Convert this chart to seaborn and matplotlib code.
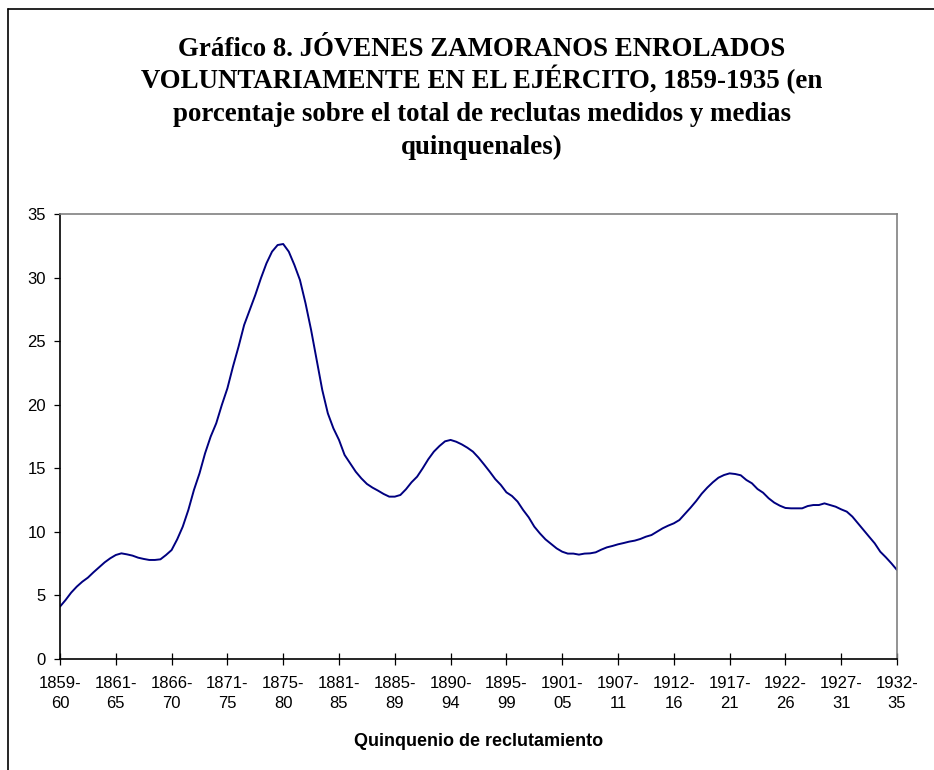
# Load the necessary libraries
import matplotlib
matplotlib.use("Agg")
import matplotlib.pyplot as plt
import seaborn as sns
import numpy as np
import pandas as pd
from matplotlib.lines import Line2D

############
# The data #
############

# Quinquennial labels shown on the category axis
periods = ["1859-\n60", "1861-\n65", "1866-\n70", "1871-\n75", "1875-\n80",
           "1881-\n85", "1885-\n89", "1890-\n94", "1895-\n99", "1901-\n05",
           "1907-\n11", "1912-\n16", "1917-\n21", "1922-\n26", "1927-\n31",
           "1932-\n35"]

# Percentage of volunteers (10 readings per label step)
volunteers = [4.12, 4.64, 5.22, 5.69, 6.08, 6.4, 6.82, 7.21, 7.6, 7.92,
              8.18, 8.31, 8.23, 8.13, 7.97, 7.87, 7.79, 7.79, 7.84, 8.18,
              8.57, 9.41, 10.41, 11.72, 13.29, 14.6, 16.18, 17.49, 18.54, 19.98,
              21.29, 23.0, 24.57, 26.27, 27.45, 28.63, 29.94, 31.12, 32.04, 32.56,
              32.64, 32.04, 31.0, 29.81, 27.98, 25.88, 23.52, 21.16, 19.32, 18.14,
              17.23, 16.05, 15.39, 14.73, 14.21, 13.77, 13.48, 13.24, 12.98, 12.77,
              12.77, 12.9, 13.35, 13.9, 14.34, 15.0, 15.71, 16.31, 16.75, 17.12,
              17.23, 17.09, 16.88, 16.62, 16.31, 15.84, 15.3, 14.74, 14.15, 13.69,
              13.11, 12.82, 12.38, 11.72, 11.14, 10.41, 9.88, 9.41, 9.05, 8.7,
              8.44, 8.29, 8.29, 8.21, 8.29, 8.31, 8.39, 8.6, 8.78, 8.89,
              9.02, 9.12, 9.23, 9.31, 9.44, 9.62, 9.75, 10.02, 10.28, 10.49,
              10.67, 10.93, 11.41, 11.9, 12.42, 13.0, 13.48, 13.9, 14.26, 14.47,
              14.6, 14.55, 14.45, 14.08, 13.82, 13.37, 13.08, 12.64, 12.3, 12.06,
              11.88, 11.85, 11.85, 11.85, 12.03, 12.11, 12.11, 12.24, 12.11, 11.98,
              11.77, 11.59, 11.2, 10.67, 10.15, 9.62, 9.1, 8.44, 8.0, 7.52,
              7.0]

title_lines = ["Gráfico 8. JÓVENES ZAMORANOS ENROLADOS",
               "VOLUNTARIAMENTE EN EL EJÉRCITO, 1859-1935 (en",
               "porcentaje sobre el total de reclutas medidos y medias",
               "quinquenales)"]

df = pd.DataFrame({"pos": np.arange(len(volunteers)), "pct": volunteers})
steps = (len(volunteers) - 1) // (len(periods) - 1)

###################
# Build the chart #
###################

sns.set_style("white")
plt.rcParams["font.family"] = ["Liberation Sans", "DejaVu Sans"]
plt.rcParams["text.color"] = "black"
plt.rcParams["xtick.color"] = "black"
plt.rcParams["ytick.color"] = "black"
plt.rcParams["axes.labelcolor"] = "black"

W, H = 934, 770
fig = plt.figure(figsize=(W / 100, H / 100), dpi=100)
ax = fig.add_axes([60 / W, (H - 659) / H, (897 - 60) / W, (659 - 214) / H])

sns.lineplot(data=df, x="pos", y="pct", ax=ax, color="#000080", linewidth=1.4)

ax.set_xlim(0, len(volunteers) - 1)
ax.set_ylim(0, 35)
ax.set_xticks(np.arange(len(periods)) * steps)
ax.set_xticklabels(periods, fontsize=12, linespacing=1.45)
ax.set_yticks(range(0, 36, 5))
ax.tick_params(axis="y", labelsize=12, direction="out", length=4, width=0.9,
               left=True, pad=6)
ax.tick_params(axis="x", direction="inout", length=8, width=0.9,
               bottom=True, pad=8)
ax.set_xlabel("Quinquenio de reclutamiento", fontsize=13, fontweight="bold",
              labelpad=16)
ax.set_ylabel("")

for side in ["left", "bottom"]:
    ax.spines[side].set_color("black")
    ax.spines[side].set_linewidth(1.2)
for side in ["top", "right"]:
    ax.spines[side].set_color("#808080")
    ax.spines[side].set_linewidth(1.2)

# Title, one line at a time
for i, line in enumerate(title_lines):
    fig.text(482 / W, 1 - (56 + i * 32.5) / H, line, ha="center", va="baseline",
             fontsize=19.4, fontweight="bold", family="Liberation Serif")

# Chart area frame (only left and top edges are visible)
fig.add_artist(Line2D([8 / W, 8 / W], [0, 1 - 9 / H], color="black",
                      linewidth=1.2, transform=fig.transFigure))
fig.add_artist(Line2D([8 / W, 1], [1 - 9 / H, 1 - 9 / H], color="black",
                      linewidth=1.2, transform=fig.transFigure))

# Save the image
plt.savefig("out.png", dpi=100)
